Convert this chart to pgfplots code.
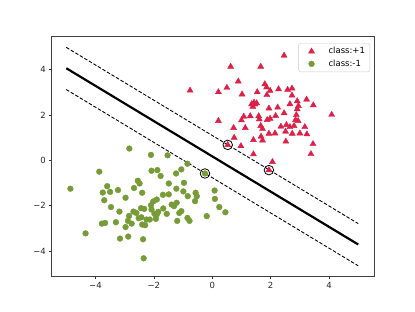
\documentclass[border=0pt]{standalone}
\usepackage{fontspec}
\setmainfont{DejaVu Sans}
\usepackage{pgfplots}
\pgfplotsset{compat=1.18}
\definecolor{redc}{RGB}{222,32,72}
\definecolor{greenc}{RGB}{118,156,55}
\begin{document}
\begin{tikzpicture}
\useasboundingbox (-51.7bp,-35.3bp) rectangle (363.3bp,276.7bp);
\begin{axis}[
  at={(0,0)}, anchor=south west,
  scale only axis, width=322.6bp, height=240bp,
  xmin=-5.5, xmax=5.55, ymin=-5.13, ymax=5.45,
  xtick={-4,-2,0,2,4}, xticklabels={−4,−2,0,2,4},
  ytick={-4,-2,0,2,4}, yticklabels={−4,−2,0,2,4},
  tick align=outside, tick pos=left,
  major tick length=2.4pt,
  tick style={black!80, line width=0.5pt},
  axis line style={black!75, line width=0.6pt},
  ticklabel style={font=\fontsize{8.5}{10}\selectfont, text=black!85},
  /pgf/number format/assume math mode=true,
  legend style={at={(0.987,0.9725)}, anchor=north east, draw=black!20, rounded corners=2pt,
    font=\fontsize{8.5}{10}\selectfont, row sep=0.5pt, inner xsep=3pt, inner ysep=2pt},
  legend cell align=left,
  legend image code/.code={\path[draw=none,fill=none] (0,0) -- (0.88cm,0); \draw[#1] plot coordinates {(0.35cm,0cm)};},
]
\addplot[only marks, mark=triangle*, mark size=3.5pt, draw=redc, fill=redc] coordinates {
(2.46,4.62) (0.63,4.13) (1.66,4.13) (0.89,3.48) (-0.76,3.08) (0.21,3.01) (0.50,3.20)
(1.02,2.91) (1.80,3.36) (1.86,3.22) (1.98,3.07) (1.54,3.01) (1.87,2.88) (2.27,3.14)
(2.58,3.11) (2.73,3.17) (2.73,2.86) (2.91,2.61) (3.23,2.68) (2.66,2.48) (3.46,2.43)
(1.43,2.55) (1.35,2.48) (1.52,2.52) (1.39,2.37) (1.46,2.47) (1.94,2.29) (2.24,2.33)
(2.46,2.08) (2.91,2.26) (2.95,2.40) (1.08,1.93) (1.30,1.95) (1.59,1.95) (1.61,1.81)
(1.88,1.78) (1.98,1.84) (2.17,1.96) (2.85,1.78) (2.94,1.74) (2.88,2.00) (4.09,2.01)
(0.21,1.74) (1.00,1.77) (0.73,1.43) (1.13,1.43) (1.66,1.52) (1.72,1.39) (2.35,1.49)
(2.54,1.56) (2.66,1.47) (2.80,1.52) (3.17,1.47) (1.94,1.18) (2.15,1.19) (2.51,1.27)
(2.74,1.18) (3.00,1.19) (3.24,1.15) (0.75,1.00) (1.41,0.90) (1.67,1.05) (1.72,0.88)
(2.52,0.83) (0.98,0.63) (3.45,0.72) (1.41,0.27) (2.06,-0.07) (3.38,0.28) (0.53,0.68)
(1.94,-0.43)
};
\addlegendentry{class:+1}
\addplot[only marks, mark=*, mark size=2.9pt, draw=greenc, fill=greenc] coordinates {
(-2.84,0.52) (-2.10,0.24) (-1.53,0.22) (-3.87,-0.50) (-4.86,-1.25) (-2.08,-0.46)
(-1.88,-0.43) (-1.77,-0.69) (-1.24,-0.58) (-1.06,-0.40) (-0.85,-0.15) (-2.55,-0.90)
(-2.49,-1.02) (-2.68,-1.22) (-2.40,-1.43) (-3.60,-1.14) (-3.50,-1.39) (-3.75,-1.42)
(-3.23,-1.31) (-3.70,-1.76) (-2.97,-1.65) (-3.47,-2.06) (-3.18,-2.26) (-3.78,-2.79)
(-3.67,-2.76) (-4.34,-3.22) (-3.16,-3.45) (-2.88,-3.36) (-2.37,-3.48) (-2.35,-4.32)
(-3.30,-2.73) (-2.97,-2.94) (-2.89,-2.67) (-2.76,-2.79) (-2.85,-2.45) (-2.70,-2.26)
(-2.60,-2.32) (-2.43,-2.51) (-2.40,-2.83) (-2.30,-2.86) (-2.25,-2.61) (-2.33,-2.14)
(-2.08,-2.17) (-2.02,-1.81) (-1.90,-1.73) (-2.10,-1.98) (-1.98,-2.36) (-1.85,-2.27)
(-1.93,-2.58) (-2.14,-2.61) (-1.69,-1.52) (-1.49,-1.02) (-1.23,-1.25) (-1.49,-1.50)
(-1.39,-1.95) (-1.22,-1.87) (-1.31,-2.02) (-1.56,-2.36) (-1.20,-2.67) (-1.13,-2.32)
(-1.06,-2.24) (-0.85,-2.54) (-0.78,-2.67) (-0.97,-0.99) (-0.99,-1.37) (-0.84,-1.58)
(-0.57,-1.43) (-0.53,-1.58) (-0.59,-1.80) (-0.19,-2.46) (0.08,-1.33) (0.09,-1.70)
(0.24,-2.06) (0.45,-2.29) (-1.68,-2.12) (-2.52,-2.55) (-1.90,-2.39) (-2.44,-2.11)
(-0.25,-0.58)
};
\addlegendentry{class:-1}
\addplot[forget plot, black, line width=2.2pt] coordinates {(-5,4.06) (5,-3.71)};
\addplot[forget plot, black, line width=0.9pt, dash pattern=on 3.5pt off 1.8pt] coordinates {(-5,4.98) (5,-2.79)};
\addplot[forget plot, black, line width=0.9pt, dash pattern=on 3.5pt off 1.8pt] coordinates {(-5,3.12) (5,-4.65)};
\addplot[forget plot, only marks, mark=o, mark size=4.8pt, draw=black, line width=0.8pt] coordinates {
(0.53,0.68) (1.94,-0.43) (-0.25,-0.58)
};
\end{axis}
\end{tikzpicture}
\end{document}
